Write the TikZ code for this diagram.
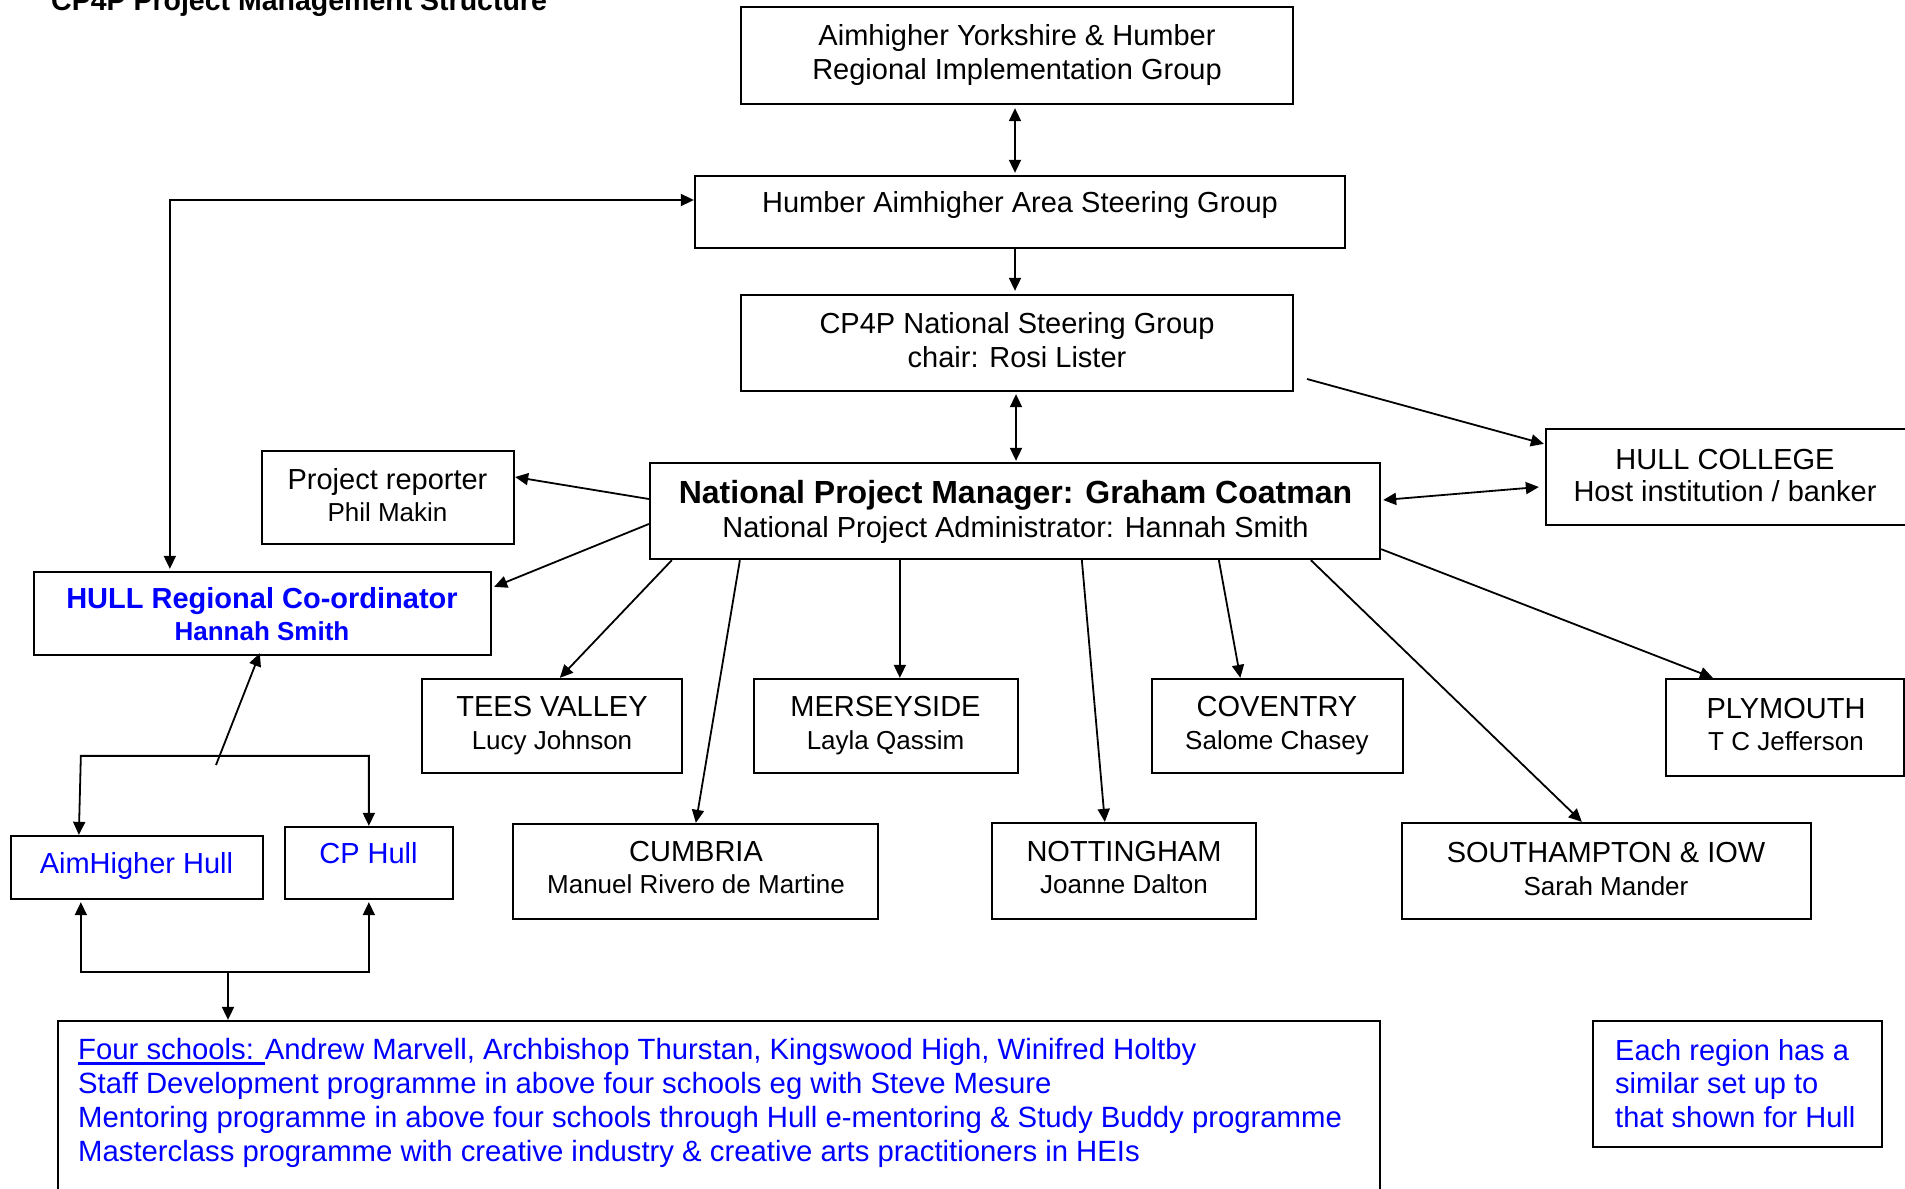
\documentclass[tikz,border=0pt]{standalone}
\usepackage{fontspec}
\setmainfont{Liberation Sans}
\usetikzlibrary{arrows.meta,calc}
\definecolor{ubl}{RGB}{0,0,255}
\newcommand{\fA}{\fontsize{29}{34}\selectfont}
\newcommand{\fB}{\fontsize{32}{36}\selectfont}
\newcommand{\fC}{\fontsize{26}{31}\selectfont}
\newcommand{\ulx}[1]{\setbox0\hbox{#1}\rlap{\rule[-5pt]{\wd0}{2.5pt}}\box0}
\begin{document}
\begin{tikzpicture}[x=1pt,y=-1pt,
  box/.style={draw,line width=2.3pt,rectangle,inner sep=0pt},
  txt/.style={inner sep=0pt,align=center,font=\fA},
  conn/.style={line width=1.8pt,-{Triangle[length=13pt,width=12pt]}},
  dconn/.style={line width=1.8pt,{Triangle[length=13pt,width=12pt]}-{Triangle[length=13pt,width=12pt]}}]
\useasboundingbox (0,0) rectangle (1905,1188);
\clip (0,0) rectangle (1905,1188);

% title
\node[anchor=base west,inner sep=0pt,font=\fontsize{28.5}{34}\selectfont\bfseries] (title) at (51,11) {CP4P Project Management Structure};

% boxes
\node[box,minimum width=552pt,minimum height=97pt] (aim) at (1017,55.5) {};
\node[txt] (aimT) at (1017,55.5) {Aimhigher Yorkshire \& Humber\\Regional Implementation Group};

\node[box,minimum width=650pt,minimum height=72pt] (humber) at (1020,212) {};
\node[txt] (humberT) at (1020,205) {Humber Aimhigher Area Steering Group};

\node[box,minimum width=552pt,minimum height=96pt] (cp4p) at (1017,343) {};
\node[txt] (cp4pT) at (1017,340) {CP4P National Steering Group\\chair: Rosi Lister};

\node[box,minimum width=252pt,minimum height=93pt] (reporter) at (388,497.5) {};
\node[txt] (reporterT) at (387.5,495) {Project reporter\\[-2pt]{\fC Phil Makin}};

\node[box,minimum width=730pt,minimum height=96pt] (npm) at (1015,511) {};
\node[txt] (npmT) at (1015.5,511.5) {{\fB\bfseries National Project Manager: Graham Coatman}\\National Project Administrator: Hannah Smith};

\node[box,minimum width=362pt,minimum height=96pt] (college) at (1727,477) {};
\node[txt] (collegeT) at (1725,475.5) {HULL COLLEGE\\[-2pt]Host institution / banker};

\node[box,minimum width=457pt,minimum height=83pt] (hullrc) at (262.5,613.5) {};
\node[txt,text=ubl,font=\fA\bfseries] (hullrcT) at (262,614.5) {HULL Regional Co-ordinator\\[-2pt]{\fC Hannah Smith}};

\node[box,minimum width=260pt,minimum height=94pt] (tees) at (552,726) {};
\node[txt] (teesT) at (552,725.5) {TEES VALLEY\\[-1pt]{\fC Lucy Johnson}};

\node[box,minimum width=264pt,minimum height=94pt] (mersey) at (886,726) {};
\node[txt] (merseyT) at (885.5,725.5) {MERSEYSIDE\\[-1pt]{\fC Layla Qassim}};

\node[box,minimum width=251pt,minimum height=94pt] (coventry) at (1277.5,726) {};
\node[txt] (coventryT) at (1277,725.5) {COVENTRY\\[-1pt]{\fC Salome Chasey}};

\node[box,minimum width=238pt,minimum height=97pt] (plymouth) at (1785,727.5) {};
\node[txt] (plymouthT) at (1786,724) {PLYMOUTH\\[-2pt]{\fC T C Jefferson}};

\node[box,minimum width=365pt,minimum height=95pt] (cumbria) at (695.5,871.5) {};
\node[txt] (cumbriaT) at (696,867.5) {CUMBRIA\\[-2pt]{\fC Manuel Rivero de Martine}};

\node[box,minimum width=264pt,minimum height=96pt] (notts) at (1124,871) {};
\node[txt] (nottsT) at (1124,867.5) {NOTTINGHAM\\[-2pt]{\fC Joanne Dalton}};

\node[box,minimum width=409pt,minimum height=96pt] (soton) at (1606.5,871) {};
\node[txt] (sotonT) at (1606,868.5) {SOUTHAMPTON \& IOW\\[-1pt]{\fC Sarah Mander}};

\node[box,minimum width=252pt,minimum height=63pt] (ahhull) at (137,867.5) {};
\node[txt,text=ubl] (ahhullT) at (136.5,866) {AimHigher Hull};

\node[box,minimum width=168pt,minimum height=72pt] (cphull) at (369,863) {};
\node[txt,text=ubl] (cphullT) at (368.5,853) {CP Hull};

\node[box,minimum width=1322pt,minimum height=189pt] (schools) at (719,1115.5) {};
\node[inner sep=0pt,align=left,anchor=west,text=ubl,font=\fontsize{29.3}{33.8}\selectfont] (schoolsT) at (78,1103) {\ulx{Four schools: }Andrew Marvell, Archbishop Thurstan, Kingswood High, Winifred Holtby\\
Staff Development programme in above four schools eg with Steve Mesure\\
Mentoring programme in above four schools through Hull e-mentoring \& Study Buddy programme\\
Masterclass programme with creative industry \& creative arts practitioners in HEIs};

\node[box,minimum width=289pt,minimum height=126pt] (each) at (1737.5,1084) {};
\node[inner sep=0pt,align=left,anchor=west,text=ubl,font=\fontsize{29}{33.5}\selectfont] (eachT) at (1615,1083.5) {Each region has a\\similar set up to\\that shown for Hull};

% connectors
\draw[dconn,shorten <=3pt,shorten >=2pt] ($(aim.south)+(-2,0)$) -- ($(humber.north)+(-5,0)$);
\draw[conn,shorten >=3pt] ($(humber.south)+(-5,0)$) -- ($(cp4p.north)+(-2,0)$);
\draw[dconn,shorten <=2pt,shorten >=1pt] ($(cp4p.south)+(-1,0)$) -- ($(npm.north)+(1,0)$);
\draw[dconn] ($(humber.west)+(0,-12)$) -| ($(hullrc.north west)+(137,-2)$);
\draw[conn] ($(npm.west)+(0,-12)$) -- ($(reporter.east)+(0,-20.5)$);
\draw[conn] ($(npm.west)+(0,13)$) -- ($(hullrc.north east)+(2,16)$);

\draw[conn] ($(npm.south west)+(23,0)$) -- ($(tees.north west)+(139,0)$);
\draw[conn] ($(npm.south west)+(91,0)$) -- ($(cumbria.north west)+(184,0)$);
\draw[conn] ($(npm.south west)+(251,0)$) -- ($(mersey.north west)+(147,0)$);
\draw[conn] ($(npm.south west)+(433,0)$) -- ($(notts.north west)+(114,0)$);
\draw[conn] ($(npm.south west)+(570,0)$) -- ($(coventry.north west)+(89.5,0)$);
\draw[conn] ($(npm.south west)+(662,0)$) -- ($(soton.north west)+(181,0)$);
\draw[conn] ($(npm.south east)+(0,-11)$) -- ($(plymouth.north west)+(48,0)$);

\coordinate (cpx) at (1307,379);
\draw[conn] (cpx) -- ($(college.north west)+(-1,16)$);
\draw[dconn] ($(npm.east)+(2,-11)$) -- ($(college.west)+(-6,10)$);

\coordinate (hb) at (216,765);
\draw[conn] (hb) -- ($(hullrc.south west)+(227,-3)$);
\draw[dconn] ($(ahhull.north west)+(69,0)$) -- ++(2,-79) -| ($(cphull.north west)+(85,0)$);
\coordinate (bbar) at (228,972);
\draw[dconn] ($(ahhull.south west)+(71,2)$) |- (bbar) -| ($(cphull.south west)+(85,2)$);
\draw[conn] (bbar) -- (bbar |- schools.north);
\end{tikzpicture}
\end{document}
